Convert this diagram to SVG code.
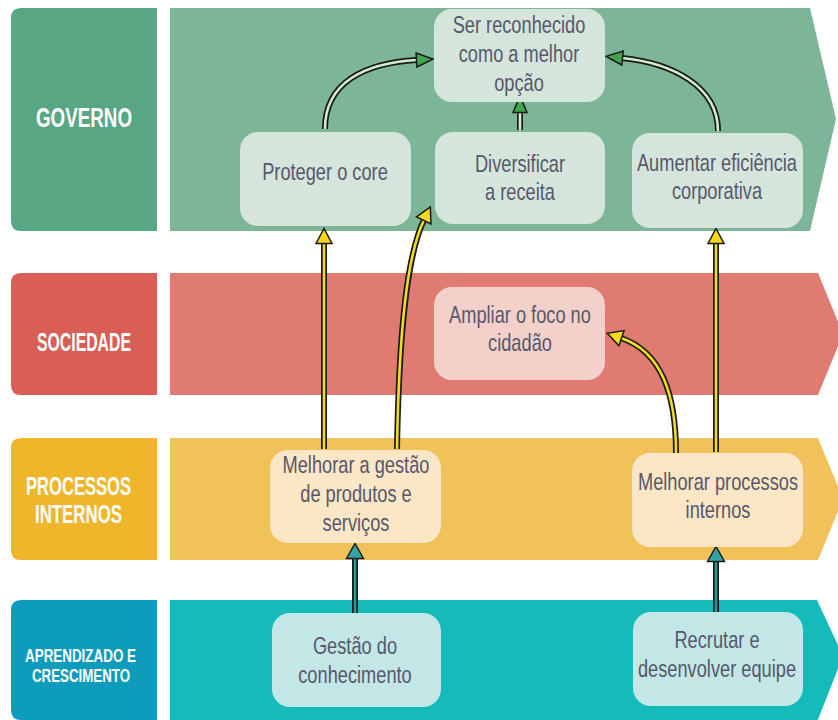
<svg xmlns="http://www.w3.org/2000/svg" width="838" height="720" viewBox="0 0 838 720">
<style>
.lbl{font-family:"Liberation Sans Narrow","Liberation Sans",Arial,sans-serif;font-weight:bold;fill:#ffffff;text-anchor:middle}
.nt{font-family:"Liberation Sans",Arial,sans-serif;font-size:24px;fill:#57586a;text-anchor:middle}
.out{fill:none;stroke:#1a1a1a;stroke-width:6}
.ing{fill:none;stroke:#d3ecc9;stroke-width:2.6}
.iny{fill:none;stroke:#f2dc1e;stroke-width:2.6}
.int{fill:none;stroke:#2e9497;stroke-width:2.6}
.ng{fill:#d5e5dc}
.ns{fill:#f3d1ca}
.np{fill:#fbe6c6}
.na{fill:#c2e7e6}
</style>
<defs>
<marker id="hg" markerUnits="userSpaceOnUse" viewBox="0 0 20 18" markerWidth="20" markerHeight="18" refX="2" refY="9" orient="auto">
<path d="M1.5,2 L18,9 L1.5,16 Z" fill="#41a44f" stroke="#1a1a1a" stroke-width="1.5" stroke-linejoin="miter"/>
</marker>
<marker id="hy" markerUnits="userSpaceOnUse" viewBox="0 0 18 20" markerWidth="18" markerHeight="20" refX="2" refY="10" orient="auto">
<path d="M1.5,2 L16.5,10 L1.5,18 Z" fill="#f5d81a" stroke="#1a1a1a" stroke-width="1.5"/>
</marker>
<marker id="ht" markerUnits="userSpaceOnUse" viewBox="0 0 18 20" markerWidth="18" markerHeight="20" refX="2" refY="10" orient="auto">
<path d="M1.5,1.5 L16.5,10 L1.5,18.5 Z" fill="#35a3a6" stroke="#1a1a1a" stroke-width="1.5"/>
</marker>
</defs>
<rect width="838" height="720" fill="#ffffff"/>

<g id="lanes">
<g id="lane-governo">
<path d="M157,8 L21,8 Q11,8 11,18 L11,221 Q11,231 21,231 L157,231 Z" fill="#59a684"/>
<polygon points="170,8 810,8 836,119 810,231 170,231" fill="#7cb597"/>
<text class="lbl" x="84" y="127" font-size="27" textLength="96" lengthAdjust="spacingAndGlyphs">GOVERNO</text>
</g>
<g id="lane-sociedade">
<path d="M157,273 L21,273 Q11,273 11,283 L11,385 Q11,395 21,395 L157,395 Z" fill="#d85e56"/>
<polygon points="170,273 818,273 843,334 818,395 170,395" fill="#e07b71"/>
<text class="lbl" x="84" y="351" font-size="25" textLength="94" lengthAdjust="spacingAndGlyphs">SOCIEDADE</text>
</g>
<g id="lane-processos">
<path d="M157,438 L21,438 Q11,438 11,448 L11,550 Q11,560 21,560 L157,560 Z" fill="#f0b62b"/>
<polygon points="170,438 818,438 843,499 818,560 170,560" fill="#f2c25a"/>
<text class="lbl" x="78.5" y="495" font-size="25" textLength="105" lengthAdjust="spacingAndGlyphs">PROCESSOS</text>
<text class="lbl" x="78.5" y="523" font-size="25" textLength="87" lengthAdjust="spacingAndGlyphs">INTERNOS</text>
</g>
<g id="lane-aprendizado">
<path d="M157,600 L21,600 Q11,600 11,610 L11,710 Q11,720 21,720 L157,720 Z" fill="#0e9cbc"/>
<polygon points="170,600 817,600 843,656 817,722 170,722" fill="#15bbbb"/>
<text class="lbl" x="80.5" y="662" font-size="19" textLength="111" lengthAdjust="spacingAndGlyphs">APRENDIZADO E</text>
<text class="lbl" x="81" y="682" font-size="19" textLength="98" lengthAdjust="spacingAndGlyphs">CRESCIMENTO</text>
</g>
</g>

<g id="connectors">
<g id="c1"><path class="out" d="M325,129 C325,82 365,63 417,60"/><path class="ing" d="M325,129 C325,82 365,63 417,60" marker-end="url(#hg)"/></g>
<g id="c2"><path class="out" d="M520,130 L520,112"/><path class="ing" d="M520,130 L520,112" marker-end="url(#hg)"/></g>
<g id="c3"><path class="out" d="M718,131 C718,86 672,63 622,58"/><path class="ing" d="M718,131 C718,86 672,63 622,58" marker-end="url(#hg)"/></g>
<g id="c4"><path class="out" d="M324,449 L324,243"/><path class="iny" d="M324,449 L324,243" marker-end="url(#hy)"/></g>
<g id="c5"><path class="out" d="M397,449 C399,330 407,255 424,220"/><path class="iny" d="M397,449 C399,330 407,255 424,220" marker-end="url(#hy)"/></g>
<g id="c6"><path class="out" d="M716,452 L716,243"/><path class="iny" d="M716,452 L716,243" marker-end="url(#hy)"/></g>
<g id="c7"><path class="out" d="M676,453 C676,395 662,352 621,338"/><path class="iny" d="M676,453 C676,395 662,352 621,338" marker-end="url(#hy)"/></g>
<g id="c8"><path class="out" d="M355,614 L355,558"/><path class="int" d="M355,614 L355,558" marker-end="url(#ht)"/></g>
<g id="c9"><path class="out" d="M716,613 L716,561"/><path class="int" d="M716,613 L716,561" marker-end="url(#ht)"/></g>
</g>

<g id="n-ser">
<rect class="ng" x="434" y="9" width="171" height="93" rx="18"/>
<g transform="matrix(0.76,0,0,1,124.56,0)">
<text class="nt" x="519" y="33">Ser reconhecido</text>
<text class="nt" x="519" y="62">como a melhor</text>
<text class="nt" x="519" y="91">opção</text>
</g>
</g>
<g id="n-proteger">
<rect class="ng" x="240" y="132" width="171" height="94" rx="18"/>
<g transform="matrix(0.76,0,0,1,78,0)">
<text class="nt" x="325" y="180">Proteger o core</text>
</g>
</g>
<g id="n-diversificar">
<rect class="ng" x="435" y="132" width="170" height="92" rx="18"/>
<g transform="matrix(0.76,0,0,1,124.8,0)">
<text class="nt" x="520" y="172">Diversificar</text>
<text class="nt" x="520" y="200">a receita</text>
</g>
</g>
<g id="n-aumentar">
<rect class="ng" x="632" y="133" width="171" height="95" rx="18"/>
<g transform="matrix(0.76,0,0,1,172.08,0)">
<text class="nt" x="717" y="171">Aumentar eficiência</text>
<text class="nt" x="717" y="199">corporativa</text>
</g>
</g>
<g id="n-ampliar">
<rect class="ns" x="434" y="287" width="171" height="93" rx="18"/>
<g transform="matrix(0.76,0,0,1,124.8,0)">
<text class="nt" x="520" y="323">Ampliar o foco no</text>
<text class="nt" x="520" y="351">cidadão</text>
</g>
</g>
<g id="n-melhorar-gestao">
<rect class="np" x="270" y="450" width="171" height="93" rx="18"/>
<g transform="matrix(0.76,0,0,1,85.44,0)">
<text class="nt" x="356" y="473">Melhorar a gestão</text>
<text class="nt" x="356" y="502">de produtos e</text>
<text class="nt" x="356" y="531">serviços</text>
</g>
</g>
<g id="n-melhorar-processos">
<rect class="np" x="632" y="453" width="171" height="94" rx="18"/>
<g transform="matrix(0.76,0,0,1,172.32,0)">
<text class="nt" x="718" y="490">Melhorar processos</text>
<text class="nt" x="718" y="518">internos</text>
</g>
</g>
<g id="n-gestao">
<rect class="na" x="272" y="613" width="169" height="94" rx="18"/>
<g transform="matrix(0.76,0,0,1,85.2,0)">
<text class="nt" x="355" y="654">Gestão do</text>
<text class="nt" x="355" y="683">conhecimento</text>
</g>
</g>
<g id="n-recrutar">
<rect class="na" x="633" y="612" width="170" height="94" rx="18"/>
<g transform="matrix(0.76,0,0,1,172.08,0)">
<text class="nt" x="717" y="648">Recrutar e</text>
<text class="nt" x="717" y="677">desenvolver equipe</text>
</g>
</g>
</svg>
